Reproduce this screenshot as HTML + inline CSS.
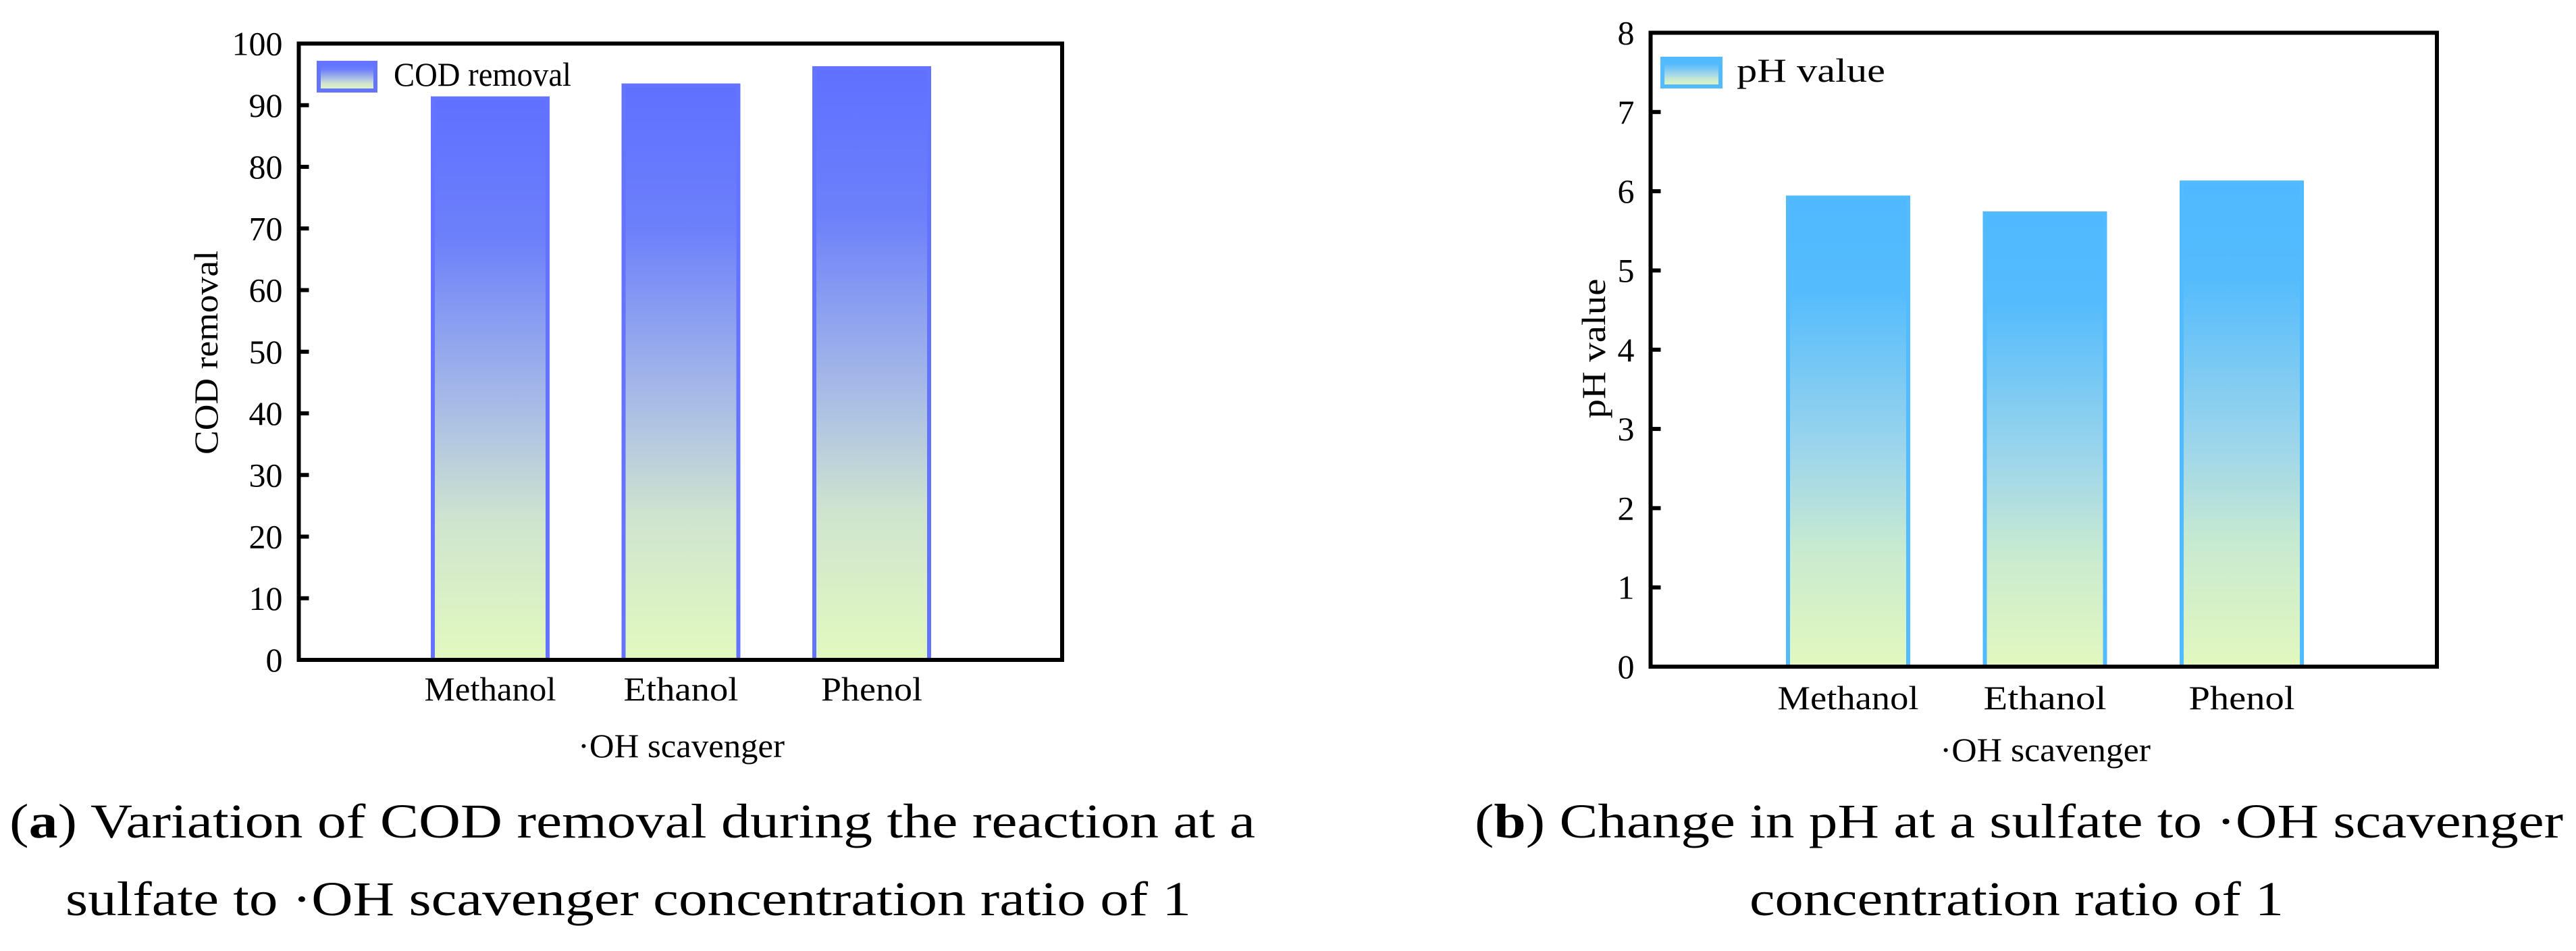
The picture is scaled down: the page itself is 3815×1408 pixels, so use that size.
<!DOCTYPE html>
<html><head><meta charset="utf-8"><style>
html,body{margin:0;padding:0;background:#fff;}
svg{display:block;}
text{font-family:"Liberation Serif",serif;fill:#000;}
</style></head><body>
<svg id="fig" width="3815" height="1408" viewBox="0 0 3815 1408" xmlns="http://www.w3.org/2000/svg">
<defs>
<linearGradient id="gA" x1="0" y1="0" x2="0" y2="1"><stop offset="0" stop-color="#5f70ff"/><stop offset="0.25" stop-color="#6d80fa"/><stop offset="0.55" stop-color="#a8bce6"/><stop offset="0.75" stop-color="#cfe4cf"/><stop offset="1" stop-color="#e2f9bf"/></linearGradient>
<linearGradient id="gB" x1="0" y1="0" x2="0" y2="1"><stop offset="0" stop-color="#4eb9ff"/><stop offset="0.2" stop-color="#55bcfc"/><stop offset="0.55" stop-color="#9fd6ea"/><stop offset="0.75" stop-color="#c8ead0"/><stop offset="1" stop-color="#e3f8bf"/></linearGradient>
</defs>
<g id="chartA"></g>
<g id="chartB"></g>
<g font-size="72">
<text x="14" y="1240" textLength="1845" lengthAdjust="spacingAndGlyphs">(<tspan font-weight="bold">a</tspan>) Variation of COD removal during the reaction at a</text>
<text x="97" y="1355" textLength="1667" lengthAdjust="spacingAndGlyphs">sulfate to ·OH scavenger concentration ratio of 1</text>
</g>
<g font-size="72">
<text x="2184" y="1240" textLength="1612" lengthAdjust="spacingAndGlyphs">(<tspan font-weight="bold">b</tspan>) Change in pH at a sulfate to ·OH scavenger</text>
<text x="2591" y="1355" textLength="791" lengthAdjust="spacingAndGlyphs">concentration ratio of 1</text>
</g>
</svg>
<script>
const categoriesA = ["Methanol", "Ethanol", "Phenol"];
const valuesA = [91.1, 93.2, 96.0];
const ticksA = [0, 10, 20, 30, 40, 50, 60, 70, 80, 90, 100];
const categoriesB = ["Methanol", "Ethanol", "Phenol"];
const valuesB = [5.92, 5.72, 6.11];
const ticksB = [0, 1, 2, 3, 4, 5, 6, 7, 8];

const NS = "http://www.w3.org/2000/svg";
function mk(parent, tag, attrs, txt) {
  const e = document.createElementNS(NS, tag);
  for (const k in attrs) e.setAttribute(k, attrs[k]);
  if (txt !== undefined) e.textContent = txt;
  parent.appendChild(e);
  return e;
}

function drawChart(g, cfg) {
  const y = v => cfg.y0 - (v - cfg.ymin) / (cfg.ymax - cfg.ymin) * (cfg.y0 - cfg.y1);
  const x = i => cfg.c0 + i * cfg.step;
  cfg.values.forEach((v, i) => {
    const r = mk(g, "rect", {x: x(i) - cfg.bw / 2, y: y(v), width: cfg.bw, height: cfg.y0 - y(v), fill: cfg.grad, stroke: cfg.edge, "stroke-width": 6});
    
    
  });
  const f = mk(g, "rect", {x: cfg.x0, y: cfg.y1, width: cfg.x1 - cfg.x0, height: cfg.y0 - cfg.y1, fill: "none", stroke: "#000", "stroke-width": 6});
  
  
  cfg.ticks.forEach(t => {
    const ty = y(t);
    if (t !== cfg.ymin && t !== cfg.ymax) {
      const l = mk(g, "line", {x1: cfg.x0, x2: cfg.x0 + 15, y1: ty, y2: ty, stroke: "#000", "stroke-width": 6});
      
      
    }
    const tl = mk(g, "text", {x: cfg.x0 - 24, y: ty + 17, "text-anchor": "end", "font-size": 50}, String(t));
    
    
  });
  cfg.cats.forEach((c, i) => {
    const t = mk(g, "text", {x: x(i), y: cfg.xlabY, "text-anchor": "middle", "font-size": 50, "font-family": cfg.labFont}, c);
    if (cfg.labLen) { t.setAttribute("textLength", cfg.labLen[i]); t.setAttribute("lengthAdjust", "spacingAndGlyphs"); }
    
    
  });
  const xt = mk(g, "text", {x: cfg.xtX, y: cfg.xtY, "text-anchor": "middle", "font-size": 50, textLength: cfg.xtLen, lengthAdjust: "spacingAndGlyphs"}, "·OH scavenger");
  
  
  const yt = mk(g, "text", {x: 0, y: 0, "text-anchor": "middle", "font-size": 50, transform: "translate(" + cfg.ytX + "," + cfg.ytY + ") rotate(-90)", textLength: cfg.ytLen, lengthAdjust: "spacingAndGlyphs"}, cfg.ytitle);
  
  
  const lg = mk(g, "g", {});
  
  
  const sw = mk(lg, "rect", {x: cfg.legX + 3, y: cfg.legY + 3, width: cfg.legW - 6, height: 41, fill: cfg.grad, stroke: cfg.edge, "stroke-width": 6});
  
  
  const lt = mk(lg, "text", {x: cfg.legTX, y: cfg.legY + 37, "font-size": 50, textLength: cfg.legTL, lengthAdjust: "spacingAndGlyphs", "font-family": cfg.legFont}, cfg.ytitle);
  
  
}

drawChart(document.getElementById("chartA"), {
  cats: categoriesA, values: valuesA, ticks: ticksA, ymin: 0, ymax: 100,
  x0: 442.5, x1: 1573, y0: 977, y1: 64.5, c0: 726, step: 282.5, bw: 170,
  grad: "url(#gA)", edge: "#6474ff", xlabY: 1037, labFont: "Liberation Serif",
  labLen: [195, 170, 150],
  xtX: 1009, xtY: 1121, xtLen: 306, ytX: 322, ytY: 522, ytLen: 302, ytitle: "COD removal",
  legX: 469, legY: 90, legW: 90, legTX: 583, legTL: 263, legFont: "Liberation Serif"
});
drawChart(document.getElementById("chartB"), {
  cats: categoriesB, values: valuesB, ticks: ticksB, ymin: 0, ymax: 8,
  x0: 2444.5, x1: 3609, y0: 987, y1: 48.5, c0: 2737, step: 291.5, bw: 178,
  grad: "url(#gB)", edge: "#52bbff", xlabY: 1050, labFont: "Liberation Mono",
  labLen: [209, 182, 157],
  xtX: 3029, xtY: 1127, xtLen: 312, ytX: 2377, ytY: 516, ytLen: 207, ytitle: "pH value",
  legX: 2459, legY: 84, legW: 92, legTX: 2572, legTL: 220, legFont: "Liberation Mono"
});
</script>
</body></html>
